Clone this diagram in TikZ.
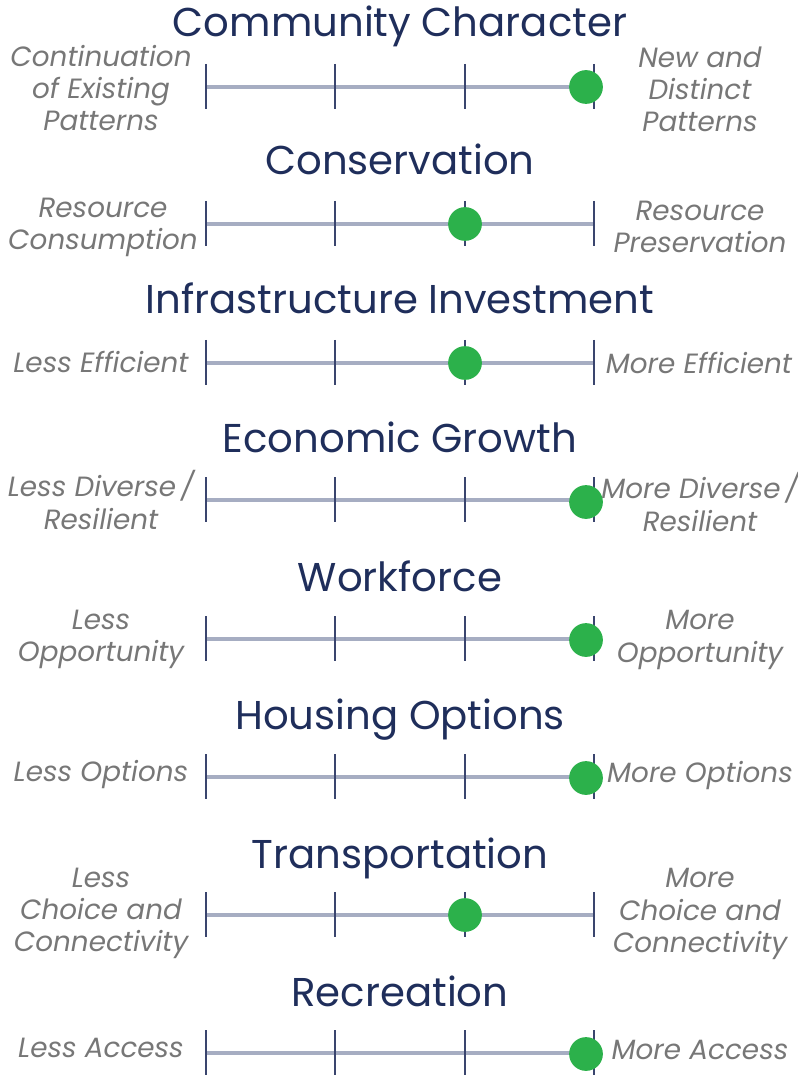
\documentclass[tikz,border=0pt]{standalone}
\usepackage{fontspec}
\setmainfont{Poppins}
\usepackage{tikz}
\usetikzlibrary{positioning,calc}
\definecolor{navy}{HTML}{1F2E5B}
\definecolor{greytext}{HTML}{777777}
\definecolor{axisgrey}{HTML}{A6ADC2}
\definecolor{ticknavy}{HTML}{3A456E}
\definecolor{dotgreen}{HTML}{2CB14B}
\tikzset{
  ttl/.style={anchor=base, text=navy, font=\fontsize{28.6}{31}\selectfont},
  lside/.style={align=center, text=greytext, font=\fontsize{19.8}{22.8}\selectfont\itshape},
  axisline/.style={draw=axisgrey, line width=2.6pt},
  tickline/.style={draw=ticknavy, line width=1.1pt},
  dot/.style={circle, fill=dotgreen, minimum size=24pt, inner sep=0pt}
}
\begin{document}
\begin{tikzpicture}[x=0.025cm, y=-0.025cm]
		\useasboundingbox (0,0) rectangle (797,1075);
		% community character
		\node[ttl] (t1) at (400,37) {Community Character};
		\node[lside] (l1) at (101,88) {Continuation\\of Existing\\Patterns};
		\node[lside] (r1) at (700,89) {New and\\Distinct\\Patterns};
		\coordinate (a1) at (206,87); \coordinate (b1) at (594,87);
		\draw[axisline] (a1) -- (b1);
		\foreach \x in {206,335,465,594} \draw[tickline] (\x,64) -- (\x,109);
		\node[dot] (d1) at (586,87) {};
		% conservation
		\node[ttl] (t2) at (400,175) {Conservation};
		\node[lside] (l2) at (103,227) {Resource\\Consumption};
		\node[lside] (r2) at (700,227) {Resource\\Preservation};
		\coordinate (a2) at (206,224); \coordinate (b2) at (594,224);
		\draw[axisline] (a2) -- (b2);
		\foreach \x in {206,335,465,594} \draw[tickline] (\x,201) -- (\x,246);
		\node[dot] (d2) at (465,224) {};
		% infrastructure
		\node[ttl] (t3) at (400,314) {Infrastructure Investment};
		\node[lside] (l3) at (101,362) {Less Efficient};
		\node[lside] (r3) at (699,363) {More Efficient};
		\coordinate (a3) at (206,363); \coordinate (b3) at (594,363);
		\draw[axisline] (a3) -- (b3);
		\foreach \x in {206,335,465,594} \draw[tickline] (\x,340) -- (\x,385);
		\node[dot] (d3) at (465,363) {};
		% economic growth
		\node[ttl] (t4) at (400,452) {Economic Growth};
		\node[lside] (l4) at (101,500) {Less Diverse\,/\\Resilient};
		\node[lside] (r4) at (700,502) {More Diverse\,/\\Resilient};
		\coordinate (a4) at (206,500); \coordinate (b4) at (594,500);
		\draw[axisline] (a4) -- (b4);
		\foreach \x in {206,335,465,594} \draw[tickline] (\x,477) -- (\x,522);
		\node[dot] (d4) at (586,502) {};
		% workforce
		\node[ttl] (t5) at (400,591) {Workforce};
		\node[lside] (l5) at (101,639) {Less\\Opportunity};
		\node[lside] (r5) at (700,640) {More\\Opportunity};
		\coordinate (a5) at (206,639); \coordinate (b5) at (594,639);
		\draw[axisline] (a5) -- (b5);
		\foreach \x in {206,335,465,594} \draw[tickline] (\x,616) -- (\x,661);
		\node[dot] (d5) at (586,640) {};
		% housing options
		\node[ttl] (t6) at (400,729) {Housing Options};
		\node[lside] (l6) at (101,775) {Less Options};
		\node[lside] (r6) at (700,776) {More Options};
		\coordinate (a6) at (206,777); \coordinate (b6) at (594,777);
		\draw[axisline] (a6) -- (b6);
		\foreach \x in {206,335,465,594} \draw[tickline] (\x,754) -- (\x,799);
		\node[dot] (d6) at (586,778) {};
		% transportation
		\node[ttl] (t7) at (400,868) {Transportation};
		\node[lside] (l7) at (101,913) {Less\\Choice and\\Connectivity};
		\node[lside] (r7) at (700,914) {More\\Choice and\\Connectivity};
		\coordinate (a7) at (206,915); \coordinate (b7) at (594,915);
		\draw[axisline] (a7) -- (b7);
		\foreach \x in {206,335,465,594} \draw[tickline] (\x,892) -- (\x,937);
		\node[dot] (d7) at (465,915) {};
		% recreation
		\node[ttl] (t8) at (400,1006) {Recreation};
		\node[lside] (l8) at (101,1048) {Less Access};
		\node[lside] (r8) at (700,1050) {More Access};
		\coordinate (a8) at (206,1053); \coordinate (b8) at (594,1053);
		\draw[axisline] (a8) -- (b8);
		\foreach \x in {206,335,465,594} \draw[tickline] (\x,1030) -- (\x,1075);
		\node[dot] (d8) at (586,1054) {};
	\end{tikzpicture}
\end{document}
